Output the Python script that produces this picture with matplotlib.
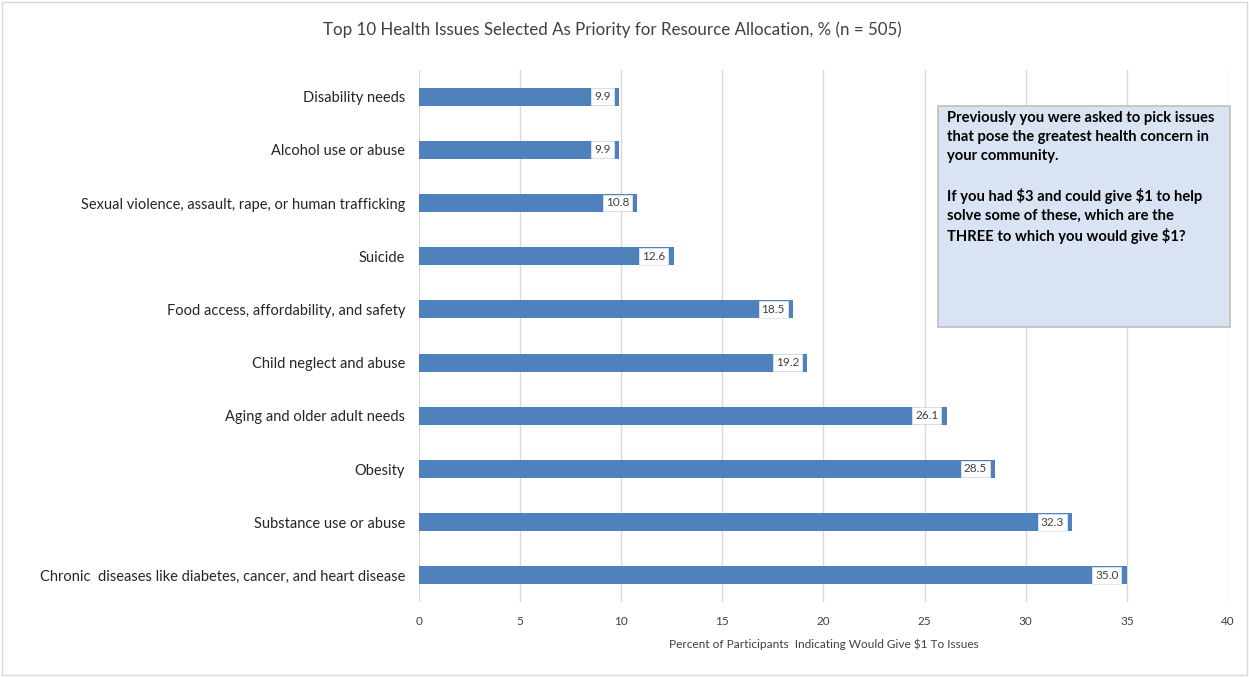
import matplotlib
matplotlib.use("Agg")
import matplotlib.pyplot as plt
from matplotlib.patches import Rectangle

plt.rcParams['font.family'] = ['Lato', 'DejaVu Sans']

categories = [
    "Chronic  diseases like diabetes, cancer, and heart disease",
    "Substance use or abuse",
    "Obesity",
    "Aging and older adult needs",
    "Child neglect and abuse",
    "Food access, affordability, and safety",
    "Suicide",
    "Sexual violence, assault, rape, or human trafficking",
    "Alcohol use or abuse",
    "Disability needs",
]
values = [35.0, 32.3, 28.5, 26.1, 19.2, 18.5, 12.6, 10.8, 9.9, 9.9]
xticks = [0, 5, 10, 15, 20, 25, 30, 35, 40]

W, H = 1249, 677
fig = plt.figure(figsize=(W/100, H/100), dpi=100)
fig.patches.append(Rectangle((2/W, 2/H), 1-4/W, 1-4/H, transform=fig.transFigure,
                             fill=False, edgecolor='#D9D9D9', linewidth=1))
ax = fig.add_axes([419/W, 1-602/H, (1228-419)/W, (602-70)/H])

y = list(range(len(categories)))
ax.barh(y, values, height=0.34, color='#4F81BD', zorder=2)
ax.set_ylim(-0.5, len(categories)-0.5)
ax.set_xlim(0, 40)
ax.set_xticks(xticks)
ax.set_xticklabels([str(t) for t in xticks], fontsize=8.5, color='#404040')
ax.set_yticks(y)
ax.set_yticklabels(categories, fontsize=10.5, color='#262626')
ax.tick_params(axis='y', length=0, pad=10)
ax.tick_params(axis='x', length=0, pad=10)
ax.grid(axis='x', color='#D9D9D9', linewidth=1, zorder=0)
for s in ax.spines.values():
    s.set_visible(False)
ax.set_axisbelow(True)

for yi, v in zip(y, values):
    ax.annotate(f"{v:.1f}", xy=(v, yi), xytext=(-6, 0), textcoords='offset points',
                ha='right', va='center', fontsize=8.5, color='#404040', zorder=3,
                bbox=dict(boxstyle='square,pad=0.25', facecolor='white', edgecolor='#DCE6F1', linewidth=0.6))

ax.set_xlabel("Percent of Participants  Indicating Would Give $1 To Issues", fontsize=8.6,
              color='#404040', labelpad=8, parse_math=False)
fig.text(612/W, 1-30/H, "Top 10 Health Issues Selected As Priority for Resource Allocation, % (n = 505)",
         ha='center', va='center', fontsize=12.2, color='#404040')

fig.patches.append(Rectangle((938/W, 1-327/H), (1230-938)/W, (327-106)/H, transform=fig.transFigure,
                             facecolor='#DAE3F3', edgecolor='#BFBFBF', linewidth=1.2, zorder=5))
fig.text(947/W, 1-111/H,
         "Previously you were asked to pick issues\nthat pose the greatest health concern in\nyour community.\n\n"
         "If you had $3 and could give $1 to help\nsolve some of these, which are the\nTHREE to which you would give $1?",
         ha='left', va='top', fontsize=10.6, fontweight='bold', color='black', linespacing=1.45,
         zorder=6, parse_math=False)

fig.savefig("out.png", dpi=100)
